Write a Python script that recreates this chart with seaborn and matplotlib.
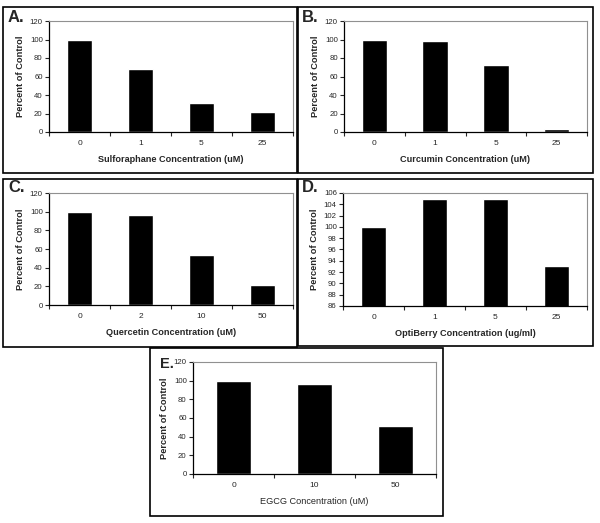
import numpy as np
import pandas as pd
import matplotlib.pyplot as plt
import seaborn as sns
from matplotlib.patches import Rectangle

sns.set_style("white")
plt.rcParams['font.family'] = ['Liberation Sans', 'DejaVu Sans']

sulf_conc = ["0", "1", "5", "25"]
sulf_pct = [100, 68, 31, 22]
curc_conc = ["0", "1", "5", "25"]
curc_pct = [100, 98, 72, 3]
quer_conc = ["0", "2", "10", "50"]
quer_pct = [100, 96, 54, 21]
opti_conc = ["0", "1", "5", "25"]
opti_pct = [100, 105, 105, 93]
egcg_conc = ["0", "10", "50"]
egcg_pct = [100, 96, 51]

W, H = 600, 523
fig = plt.figure(figsize=(6, 5.23), dpi=100)


def px(l, t, r, b):
    return [l / W, 1 - b / H, (r - l) / W, (b - t) / H]


panels = [
    ("A.", sulf_conc, sulf_pct, "Sulforaphane Concentration (uM)", True,
     (3, 7, 297, 173), (49, 21, 293, 132), (8, 10, 12), (0, 120, 20)),
    ("B.", curc_conc, curc_pct, "Curcumin Concentration (uM)", True,
     (298, 7, 593, 173), (344, 21, 587, 132), (302, 10, 12), (0, 120, 20)),
    ("C.", quer_conc, quer_pct, "Quercetin Concentration (uM)", True,
     (3, 179, 297, 347), (49, 193, 293, 305), (8, 180, 12), (0, 120, 20)),
    ("D.", opti_conc, opti_pct, "OptiBerry Concentration (ug/ml)", True,
     (298, 179, 593, 346), (343, 193, 587, 306), (302, 180, 12), (86, 106, 2)),
    ("E.", egcg_conc, egcg_pct, "EGCG Concentration (uM)", False,
     (150, 348, 443, 516), (193, 362, 436, 474), (160, 357, 10.5), (0, 120, 20)),
]

for letter, conc, pct, xlabel, bold, box, plot, lpos, yr in panels:
    fig.patches.append(Rectangle((box[0] / W, 1 - box[3] / H),
                                 (box[2] - box[0]) / W, (box[3] - box[1]) / H,
                                 transform=fig.transFigure, fill=False,
                                 edgecolor="black", linewidth=1.2))
    ax = fig.add_axes(px(*plot))
    df = pd.DataFrame({"conc": conc, "pct": pct})
    sns.barplot(data=df, x="conc", y="pct", color="black", width=0.42,
                saturation=1, ax=ax)
    n = len(conc)
    ax.set_xlim(-0.5, n - 0.5)
    ax.set_ylim(yr[0], yr[1])
    ax.set_yticks(np.arange(yr[0], yr[1] + 1, yr[2]))
    ax.set_xticks(np.arange(-0.5, n, 1.0), minor=True)
    ax.tick_params(axis="x", which="major", length=0, labelsize=6, pad=6)
    ax.tick_params(axis="x", which="minor", length=3, width=0.8, direction="out", bottom=True)
    ax.tick_params(axis="y", length=3, width=0.8, direction="out", left=True,
                   labelsize=5.6, pad=1.5)
    for s in ["top", "right"]:
        ax.spines[s].set_color("#909090")
        ax.spines[s].set_linewidth(0.8)
    for s in ["left", "bottom"]:
        ax.spines[s].set_color("black")
        ax.spines[s].set_linewidth(0.9)
    ph = plot[3] - plot[1]
    pw = plot[2] - plot[0]
    ax.set_xlabel(xlabel, fontsize=6.6, fontweight="bold" if bold else "normal")
    ax.xaxis.set_label_coords(0.5, -23 / ph)
    ax.set_ylabel("Percent of Control", fontsize=6.7, fontweight="bold")
    ax.yaxis.set_label_coords(-24 / pw, 0.5)
    fig.text(lpos[0] / W, 1 - lpos[1] / H, letter, fontsize=lpos[2],
             fontweight="bold", ha="left", va="top")

fig.savefig("out.png", dpi=100)
